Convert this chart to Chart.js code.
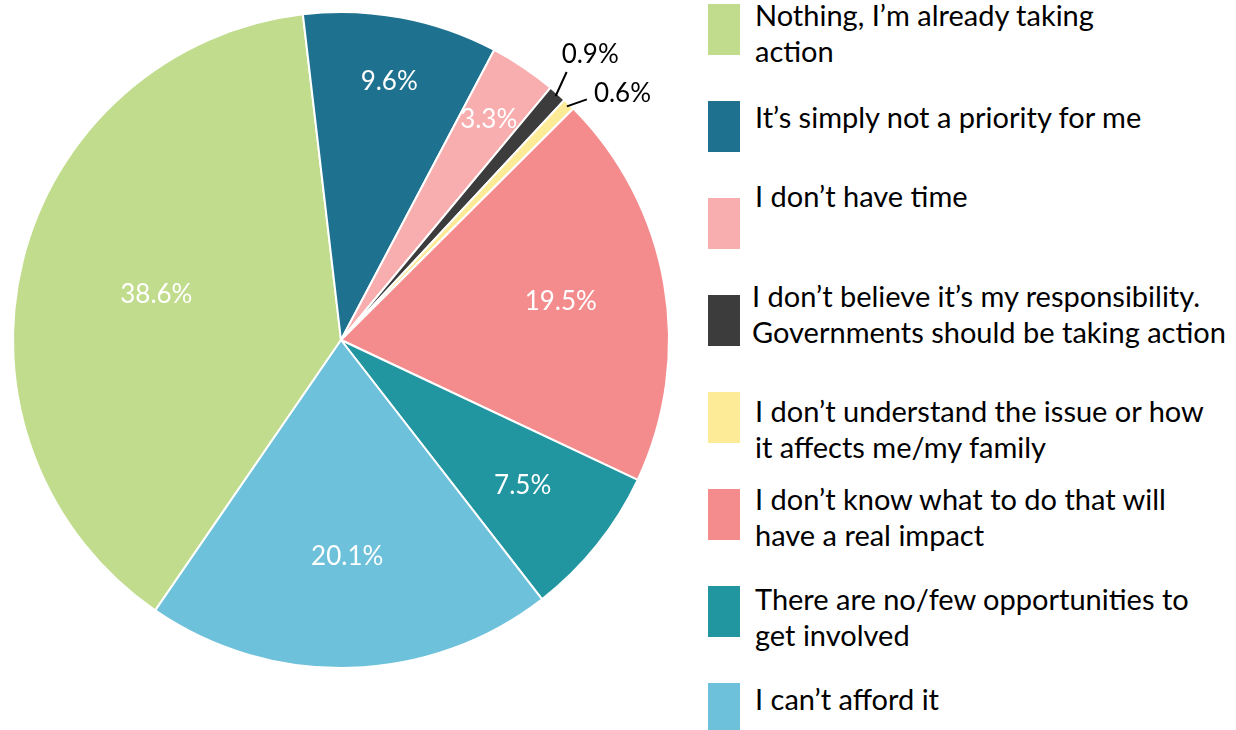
<!DOCTYPE html>
<html>
<head>
<meta charset="utf-8">
<script src="https://cdn.jsdelivr.net/npm/chart.js@4.4.1/dist/chart.umd.min.js"></script>
<style>
  body { margin: 0; background: #fff; font-family: Lato, sans-serif; }
  #wrap { position: relative; width: 1236px; height: 730px; overflow: hidden; }
  #pieBox { position: absolute; left: 0; top: 0; width: 682px; height: 730px; }
  #legend { position: absolute; left: 708px; top: 0; }
  .item { position: absolute; left: 0; width: 528px; }
  .box { position: absolute; left: 0; top: 0; width: 32px; height: 51px; }
  .txt { position: absolute; left: 47px; font-size: 29px; line-height: 36px; color: #000; white-space: nowrap; }
</style>
</head>
<body>
<div id="wrap">
  <div id="pieBox"><canvas id="pie"></canvas></div>
  <div id="legend"></div>
</div>
<script>
// data
const categories = [
  ['Nothing, I\u2019m already taking', 'action'],
  ['It\u2019s simply not a priority for me'],
  ['I don\u2019t have time'],
  ['I don\u2019t believe it\u2019s my responsibility.', 'Governments should be taking action'],
  ['I don\u2019t understand the issue or how', 'it affects me/my family'],
  ['I don\u2019t know what to do that will', 'have a real impact'],
  ['There are no/few opportunities to', 'get involved'],
  ['I can\u2019t afford it']
];
const shares = [38.6, 9.6, 3.3, 0.9, 0.6, 19.5, 7.5, 20.1];
const colors = ['#C0DC8C', '#1F728F', '#F8ADAE', '#3C3C3C', '#FEEB98', '#F48C8D', '#2196A0', '#6EC1DA'];

// how far out (fraction of radius) each inside label sits
const labelRadius = [0.58, 0.80, 0.81, 0, 0, 0.68, 0.71, 0.66];
// tiny slices get a leader line and an outside label
const outsideLabels = {
  3: { dx: 11, dy: -24, place: 'above' },
  4: { dx: 20, dy: -7, place: 'right' }
};
// legend text is not placed the same way against every box in the original
const legendTextShift = [11, 16, -2, 1, 19, 10, 13, 16];

const pctLabels = {
  id: 'pctLabels',
  afterDatasetsDraw(chart) {
    const ctx = chart.ctx;
    const meta = chart.getDatasetMeta(0);
    meta.data.forEach((arc, i) => {
      const p = arc.getProps(['x', 'y', 'startAngle', 'endAngle', 'outerRadius'], true);
      const mid = (p.startAngle + p.endAngle) / 2;
      const text = shares[i].toFixed(1) + '%';
      ctx.save();
      ctx.font = '26px Lato';
      const out = outsideLabels[i];
      if (out) {
        const sx = p.x + (p.outerRadius - 3) * Math.cos(mid);
        const sy = p.y + (p.outerRadius - 3) * Math.sin(mid);
        const ex = sx + out.dx, ey = sy + out.dy;
        ctx.strokeStyle = '#000';
        ctx.lineWidth = 2;
        ctx.beginPath();
        ctx.moveTo(sx, sy);
        ctx.lineTo(ex, ey);
        ctx.stroke();
        ctx.fillStyle = '#000';
        ctx.textAlign = 'left';
        if (out.place === 'above') {
          ctx.textBaseline = 'bottom';
          ctx.fillText(text, ex - 5, ey - 4);
        } else {
          ctx.textBaseline = 'middle';
          ctx.fillText(text, ex + 7, ey - 6);
        }
      } else {
        const r = p.outerRadius * labelRadius[i];
        ctx.fillStyle = '#fff';
        ctx.textAlign = 'center';
        ctx.textBaseline = 'middle';
        ctx.fillText(text, p.x + r * Math.cos(mid), p.y + r * Math.sin(mid));
      }
      ctx.restore();
    });
  }
};

new Chart(document.getElementById('pie'), {
  type: 'pie',
  data: {
    labels: categories.map(c => c.join(' ')),
    datasets: [{
      data: shares,
      backgroundColor: colors,
      borderColor: '#fff',
      borderWidth: 2
    }]
  },
  options: {
    responsive: true,
    maintainAspectRatio: false,
    animation: false,
    rotation: 214.5,
    layout: { padding: { top: 11, bottom: 61, left: 0, right: 0 } },
    plugins: {
      legend: { display: false },
      tooltip: { enabled: false }
    }
  },
  plugins: [pctLabels]
});

// legend drawn as html so the long labels can wrap like the original
const legend = document.getElementById('legend');
categories.forEach((lines, i) => {
  const item = document.createElement('div');
  item.className = 'item';
  item.style.top = (4 + i * 97) + 'px';
  const box = document.createElement('div');
  box.className = 'box';
  box.style.background = colors[i];
  const txt = document.createElement('div');
  txt.className = 'txt';
  txt.style.top = (legendTextShift[i] - 18) + 'px';
  if (lines[0].length > 38) txt.style.left = '44px';
  txt.innerHTML = lines.join('<br>');
  item.appendChild(box);
  item.appendChild(txt);
  legend.appendChild(item);
});
</script>
</body>
</html>
